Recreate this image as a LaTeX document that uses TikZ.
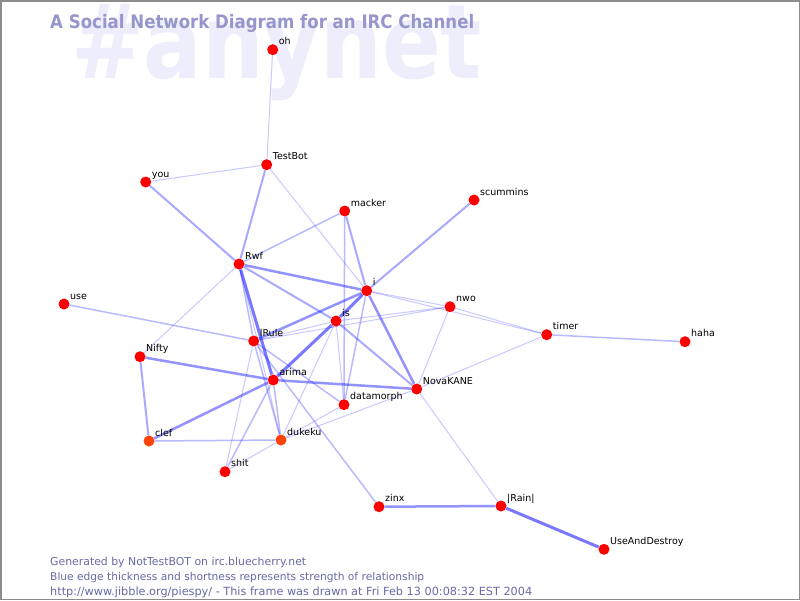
\documentclass[tikz,border=0pt]{standalone}
\usepackage{fontspec}
\setmainfont{DejaVu Sans}
\usepackage{graphicx}
\usetikzlibrary{backgrounds}
\definecolor{nodered}{RGB}{255,0,0}
\definecolor{nodeorange}{RGB}{255,68,10}
\definecolor{edgeblue}{RGB}{40,40,255}
\definecolor{bgword}{RGB}{237,237,252}
\definecolor{titlecol}{RGB}{150,150,204}
\definecolor{footcol}{RGB}{105,105,165}
\newcommand{\ircnode}[5][pt]{%
  \node[#1] (#2) at (#3,#4) {};
  \node[lbl] (#2-l) at ([shift={(6,-5)}]#2.center) {#5};}
\begin{document}
\begin{tikzpicture}[x=1pt,y=-1pt,
  pt/.style={circle, fill=nodered, minimum size=11pt, inner sep=0pt},
  pto/.style={pt, fill=nodeorange},
  lbl/.style={anchor=base west, inner sep=0pt, font=\fontsize{9.5}{11}\selectfont},
  e1/.style={draw=edgeblue, line width=1pt, draw opacity=0.25},
  e2/.style={draw=edgeblue, line width=1.5pt, draw opacity=0.32},
  e3/.style={draw=edgeblue, line width=2pt, draw opacity=0.40},
  e4/.style={draw=edgeblue, line width=2.5pt, draw opacity=0.50},
  e5/.style={draw=edgeblue, line width=3pt, draw opacity=0.62},
  foot/.style={anchor=base west, inner sep=0pt, text=footcol}]
\useasboundingbox (0,0) rectangle (800,600);

% nodes
\ircnode{oh}{272.7}{49.7}{oh}
\ircnode{TestBot}{266.7}{164.7}{TestBot}
\ircnode{you}{145.7}{182}{you}
\ircnode{macker}{344.7}{211}{macker}
\ircnode{scummins}{474}{200}{scummins}
\ircnode{Rwf}{239}{264}{Rwf}
\ircnode{i}{366.7}{290.7}{i}
\ircnode{nwo}{450}{306.7}{nwo}
\ircnode{use}{64}{304}{use}
\ircnode{is}{336}{321}{is}
\ircnode{timer}{546.7}{334.7}{timer}
\ircnode{haha}{685}{341.7}{haha}
\ircnode{lRule}{253.7}{341}{lRule}
\ircnode{Nifty}{140}{356.7}{Nifty}
\ircnode{arima}{273.3}{380}{arima}
\ircnode{NovaKANE}{416.7}{389}{NovaKANE}
\ircnode{datamorph}{344}{404.7}{datamorph}
\ircnode[pto]{clef}{149}{441}{clef}
\ircnode[pto]{dukeku}{281}{440}{dukeku}
\ircnode{shit}{225}{471.7}{shit}
\ircnode{zinx}{379}{506.7}{zinx}
\ircnode{Rain}{501}{506}{|Rain|}
\ircnode{UseAndDestroy}{604}{549.3}{UseAndDestroy}

\begin{scope}[on background layer]
\fill[white] (0,0) rectangle (800,600);
\node[anchor=base west, inner sep=0pt, text=bgword] (bgword) at (71,78)
  {\resizebox{411pt}{74pt}{\bfseries\#anynet}};
\node[anchor=base west, inner sep=0pt, text=titlecol] (title) at (50,28.5)
  {\scalebox{1}[1.12]{\resizebox{424pt}{!}{\bfseries A Social Network Diagram for an IRC Channel}}};

% edges
\draw[e1] (oh) -- (TestBot);
\draw[e1] (TestBot) -- (you);
\draw[e3] (TestBot) -- (Rwf);
\draw[e1] (TestBot) -- (i);
\draw[e3] (you) -- (Rwf);
\draw[e2] (macker) -- (Rwf);
\draw[e3] (macker) -- (i);
\draw[e2] (macker) -- (datamorph);
\draw[e3] (scummins) -- (i);
\draw[e4] (Rwf) -- (i);
\draw[e3] (Rwf) -- (is);
\draw[e5] (Rwf) -- (arima);
\draw[e2] (Rwf) -- (lRule);
\draw[e1] (Rwf) -- (dukeku);
\draw[e1] (Rwf) -- (Nifty);
\draw[e2] (use) -- (lRule);
\draw[e4] (lRule) -- (i);
\draw[e1] (lRule) -- (is);
\draw[e1] (lRule) -- (nwo);
\draw[e2] (lRule) -- (datamorph);
\draw[e2] (lRule) -- (zinx);
\draw[e1] (lRule) -- (shit);
\draw[e2] (lRule) -- (dukeku);
\draw[e4] (Nifty) -- (arima);
\draw[e3] (Nifty) -- (clef);
\draw[e4] (clef) -- (arima);
\draw[e2] (clef) -- (dukeku);
\draw[e5] (arima) -- (is);
\draw[e4] (arima) -- (NovaKANE);
\draw[e2] (arima) -- (dukeku);
\draw[e2] (arima) -- (shit);
\draw[e5] (is) -- (i);
\draw[e3] (is) -- (NovaKANE);
\draw[e1] (is) -- (nwo);
\draw[e1] (is) -- (datamorph);
\draw[e1] (is) -- (dukeku);
\draw[e4] (i) -- (NovaKANE);
\draw[e2] (i) -- (datamorph);
\draw[e1] (i) -- (nwo);
\draw[e1] (i) -- (timer);
\draw[e1] (nwo) -- (timer);
\draw[e1] (nwo) -- (NovaKANE);
\draw[e1] (timer) -- (NovaKANE);
\draw[e2] (timer) -- (haha);
\draw[e1] (NovaKANE) -- (Rain);
\draw[e4] (Rain) -- (zinx);
\draw[e5] (Rain) -- (UseAndDestroy);
\draw[e1] (dukeku) -- (datamorph);
\draw[e1] (dukeku) -- (NovaKANE);
\draw[e1] (dukeku) -- (shit);
\end{scope}

% footer
\node[foot] (f1) at (50,565) {\resizebox{256pt}{!}{Generated by NotTestBOT on irc.bluecherry.net}};
\node[foot] (f2) at (50,580) {\resizebox{374pt}{!}{Blue edge thickness and shortness represents strength of relationship}};
\node[foot] (f3) at (50,595) {\resizebox{482pt}{!}{http://www.jibble.org/piespy/ - This frame was drawn at Fri Feb 13 00:08:32 EST 2004}};

% frame
\draw[gray!90, line width=1.5pt] (0.75,0.75) rectangle (799.25,599.25);
\end{tikzpicture}
\end{document}
